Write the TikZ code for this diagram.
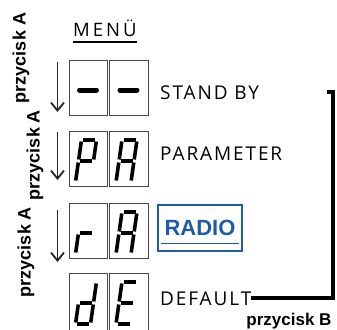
\documentclass[tikz,border=0pt]{standalone}
\usepackage{fontspec}
\usepackage{xcolor}
\usetikzlibrary{
    arrows.meta,
    positioning
}
\setmainfont{Open Sans}
\newfontfamily\menufont[LetterSpace=10]{Open Sans}
\newfontfamily\titlefont[LetterSpace=16]{Open Sans}
\newfontfamily\btnfont{Liberation Sans}
\definecolor{radioblue}{RGB}{30,92,165}
\definecolor{boxgray}{RGB}{70,70,70}
\tikzset{
    digbox/.style={draw=boxgray, line width=0.9pt, anchor=north west, minimum width=38.5pt, inner sep=0pt},
    seg/.style={line width=3.6pt, shorten <=1.5pt, shorten >=1.5pt},
    dashbar/.style={line width=5pt, line cap=round},
    btnarrow/.style={line width=1.2pt, draw=black!85, -{Straight Barb[length=8pt,width=13pt,line width=1.8pt]}},
    btnlabel/.style={font=\btnfont\bfseries\fontsize{18}{18}\selectfont, rotate=90, inner sep=0pt},
    menutext/.style={font=\menufont\fontsize{19}{19}\selectfont, anchor=base west, inner sep=0pt}
}
% slanted seven segment digit in box #1, segments given as pairs of corners
\newcommand{\segdigit}[2]{%
    \begin{scope}[shift={(#1.north west)}]
        \coordinate (tl) at (13,9);  \coordinate (tr) at (28,9);
        \coordinate (ml) at (10,30); \coordinate (mr) at (25,30);
        \coordinate (bl) at (7,51);  \coordinate (br) at (22,51);
        \foreach \p/\q in {#2} {\draw[seg] (\p) -- (\q);}
    \end{scope}}

\begin{document}
\begin{tikzpicture}[x=1pt, y=-1pt]
    \clip (0,0) rectangle (337,329);
    % display boxes
    \foreach \y/\i/\h in {60/1/55, 131/2/55, 203/3/55, 273/4/62} {
        \node[digbox, minimum height=\h pt] (l\i) at (68.5,\y) {};
        \node[digbox, minimum height=\h pt] (r\i) at (109,\y) {};
    }
    \foreach \b in {l1, r1} {
        \draw[dashbar] ([shift={(11,30)}]\b.north west) -- ([shift={(28,30)}]\b.north west);
    }
    \segdigit{l2}{tl/tr, tr/mr, tl/ml, ml/mr, ml/bl}
    \segdigit{r2}{tl/tr, tr/mr, mr/br, tl/ml, ml/bl, ml/mr}
    \segdigit{l3}{ml/mr, ml/bl}
    \segdigit{r3}{tl/tr, tr/mr, mr/br, tl/ml, ml/bl, ml/mr}
    \segdigit{l4}{tr/mr, mr/br, bl/br, ml/bl, ml/mr}
    \segdigit{r4}{tl/tr, tl/ml, ml/mr, ml/bl, bl/br}

    % menu texts
    \node[menutext, font=\titlefont\fontsize{18.5}{18.5}\selectfont] (menu) at (73,37) {MENÜ};
    \draw[line width=1.1pt] ([yshift=-5pt]menu.base west) -- ([yshift=-5pt]menu.base east);
    \node[menutext] (standby) at (160,99) {STAND BY};
    \node[menutext] (param) at (160,160) {PARAMETER};
    \node[menutext] (default) at (160,305) {DEFAULT};
    \node[draw=radioblue, line width=2.5pt, minimum width=84pt, minimum height=46pt, inner sep=0pt,
          text=radioblue, font=\btnfont\bfseries\fontsize{22}{22}\selectfont] (radio) at (200,228) {RADIO};
    \draw[radioblue, line width=1.2pt] ([shift={(4,-9)}]radio.south west) -- ([shift={(-4,-9)}]radio.south east);

    % button A
    \foreach \s/\e [count=\i] in {62/112, 132/180, 210/262} {
        \coordinate (as\i) at (57.5,\s);
        \coordinate (ae\i) at (57.5,\e);
        \draw[btnarrow] (as\i) -- (ae\i);
    }
    \node[btnlabel] (pa1) at (21,58) {przycisk A};
    \node[btnlabel] (pa2) at (35,155) {przycisk A};
    \node[btnlabel] (pa3) at (26,252) {przycisk A};

    % button B
    \coordinate (btop) at (332.5,92);
    \coordinate (btip) at (327,92);
    \draw[line width=4pt] (default.east) -| (btop) -- (btip);
    \node[font=\btnfont\bfseries\fontsize{17}{17}\selectfont, anchor=base, inner sep=0pt] (pb) at (289,325) {przycisk B};
\end{tikzpicture}
\end{document}
